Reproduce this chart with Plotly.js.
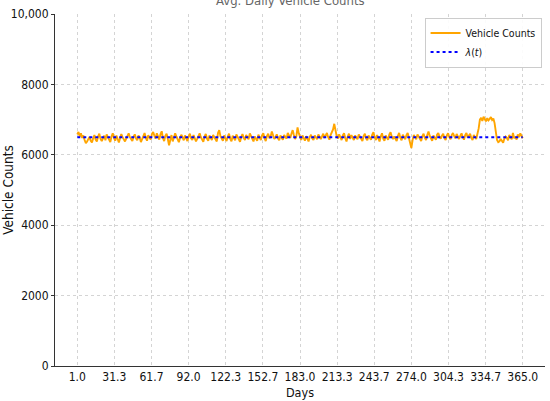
<!DOCTYPE html>
<html>
<head>
<meta charset="utf-8">
<script src="https://cdn.plot.ly/plotly-3.0.1.min.js"></script>
<style>html,body{margin:0;padding:0;background:#fff;}#chart{width:550px;height:401px;}</style>
</head>
<body>
<div id="chart"></div>
<script>
const firstDay = 1;
const vehicleCounts = [
  6580, 6650, 6520, 6610, 6480, 6550, 6420, 6330, 6380, 6460, 6510, 6400, 6350, 6470, 6560, 6430, 6380, 6520, 6600, 6450,
  6390, 6470, 6540, 6410, 6580, 6500, 6440, 6360, 6520, 6610, 6480, 6400, 6550, 6430, 6350, 6470, 6590, 6500, 6420, 6380,
  6460, 6530, 6610, 6500, 6440, 6390, 6520, 6580, 6470, 6410, 6550, 6490, 6360, 6450, 6530, 6620, 6480, 6400, 6560, 6500,
  6430, 6590, 6650, 6540, 6460, 6610, 6520, 6430, 6580, 6670, 6480, 6390, 6540, 6600, 6450, 6270, 6420, 6560, 6380, 6490,
  6610, 6520, 6440, 6360, 6480, 6570, 6500, 6410, 6550, 6460, 6390, 6520, 6600, 6470, 6420, 6560, 6490, 6380, 6450, 6540,
  6610, 6500, 6430, 6370, 6520, 6590, 6460, 6400, 6550, 6480, 6420, 6560, 6510, 6440, 6380, 6620, 6700, 6530, 6460, 6400,
  6550, 6480, 6390, 6520, 6600, 6450, 6380, 6540, 6470, 6410, 6580, 6500, 6440, 6370, 6510, 6590, 6480, 6420, 6560, 6500,
  6440, 6610, 6530, 6460, 6380, 6520, 6450, 6400, 6570, 6490, 6420, 6550, 6610, 6480, 6390, 6530, 6600, 6470, 6520, 6660,
  6540, 6450, 6500, 6580, 6470, 6410, 6550, 6490, 6430, 6560, 6510, 6460, 6620, 6540, 6480, 6600, 6700, 6560, 6450, 6520,
  6780, 6610, 6480, 6420, 6550, 6490, 6400, 6530, 6460, 6380, 6510, 6570, 6470, 6420, 6550, 6490, 6440, 6580, 6510, 6450,
  6520, 6600, 6480, 6540, 6620, 6500, 6430, 6560, 6650, 6720, 6880, 6640, 6520, 6460, 6580, 6500, 6420, 6550, 6610, 6470,
  6380, 6520, 6600, 6450, 6560, 6490, 6420, 6550, 6500, 6440, 6580, 6520, 6460, 6390, 6530, 6600, 6470, 6410, 6550, 6490,
  6430, 6570, 6640, 6500, 6420, 6560, 6490, 6380, 6520, 6610, 6460, 6400, 6550, 6490, 6430, 6580, 6640, 6510, 6450, 6520,
  6470, 6390, 6540, 6620, 6480, 6410, 6570, 6500, 6440, 6560, 6620, 6480, 6360, 6190, 6420, 6560, 6500, 6440, 6580, 6510,
  6450, 6390, 6530, 6600, 6480, 6420, 6560, 6660, 6540, 6470, 6400, 6550, 6490, 6430, 6570, 6620, 6510, 6460, 6540, 6600,
  6480, 6420, 6550, 6610, 6500, 6440, 6560, 6620, 6530, 6470, 6590, 6520, 6450, 6540, 6610, 6500, 6430, 6560, 6620, 6490,
  6540, 6600, 6480, 6420, 6560, 6510, 6450, 6600, 6750, 7000, 7050, 6960, 7080, 7010, 6950, 7040, 6980, 7020, 7070, 6990,
  7030, 6900, 6620, 6420, 6360, 6380, 6450, 6400, 6340, 6460, 6520, 6480, 6410, 6560, 6500, 6440, 6620, 6470, 6520, 6430,
  6580, 6500, 6610, 6540, 6470
];
const lambdaDays = [1, 365];
const lambdaValues = [6500, 6500];
const xTickVals = [1.0, 31.333, 61.667, 92.0, 122.333, 152.667, 183.0, 213.333, 243.667, 274.0, 304.333, 334.667, 365.0];
const xTickText = ["1.0", "31.3", "61.7", "92.0", "122.3", "152.7", "183.0", "213.3", "243.7", "274.0", "304.3", "334.7", "365.0"];
const yTickVals = [0, 2000, 4000, 6000, 8000, 10000];
const yTickText = ["0", "2000", "4000", "6000", "8000", "10,000"];
const titleText = "Avg. Daily Vehicle Counts";

const days = vehicleCounts.map((_, i) => firstDay + i);
const fontFam = "'DejaVu Sans Condensed', 'DejaVu Sans', sans-serif";

const traces = [
  {x: days, y: vehicleCounts, type: 'scatter', mode: 'lines', name: 'Vehicle Counts',
   line: {color: '#FFA500', width: 1.9}},
  {x: lambdaDays, y: lambdaValues, type: 'scatter', mode: 'lines', name: '<i>λ</i>(<i>t</i>)',
   line: {color: '#0000FF', width: 2, dash: 'dot'}}
];

const layout = {
  width: 550, height: 401,
  margin: {l: 55, r: 5, t: 14, b: 35},
  paper_bgcolor: '#fff', plot_bgcolor: '#fff',
  font: {family: fontFam, size: 12, color: '#111'},
  annotations: [{
    text: titleText, xref: 'paper', yref: 'paper', x: 0.48, y: 1, xanchor: 'center', yanchor: 'bottom',
    yshift: 4, showarrow: false, font: {size: 13, color: '#666'}
  }],
  showlegend: true,
  legend: {x: 0.993, xanchor: 'right', y: 0.99, yanchor: 'top', bgcolor: 'rgba(255,255,255,0.9)',
           bordercolor: '#ccc', borderwidth: 1, font: {size: 10.5, color: '#111'},
           tracegroupgap: 0, itemwidth: 30},
  xaxis: {
    range: [-17.2, 383.2], tickmode: 'array', tickvals: xTickVals, ticktext: xTickText,
    showgrid: true, gridcolor: '#d4d4d4', griddash: 'dot', gridwidth: 1,
    showline: true, linecolor: '#333', linewidth: 1, mirror: false,
    ticks: '', zeroline: false,
    tickfont: {size: 12, color: '#111'},
    title: {text: 'Days', font: {size: 12.5, color: '#111'}, standoff: 4}
  },
  yaxis: {
    range: [0, 10000], tickmode: 'array', tickvals: yTickVals, ticktext: yTickText,
    showgrid: true, gridcolor: '#d4d4d4', griddash: 'dot', gridwidth: 1,
    showline: true, linecolor: '#333', linewidth: 1,
    ticks: 'outside', ticklen: 3, tickcolor: '#333', zeroline: false,
    tickfont: {size: 12, color: '#111'},
    title: {text: 'Vehicle Counts', font: {size: 13.5, color: '#111'}, standoff: 8}
  }
};

Plotly.newPlot('chart', traces, layout, {displayModeBar: false, staticPlot: true});
</script>
</body>
</html>
